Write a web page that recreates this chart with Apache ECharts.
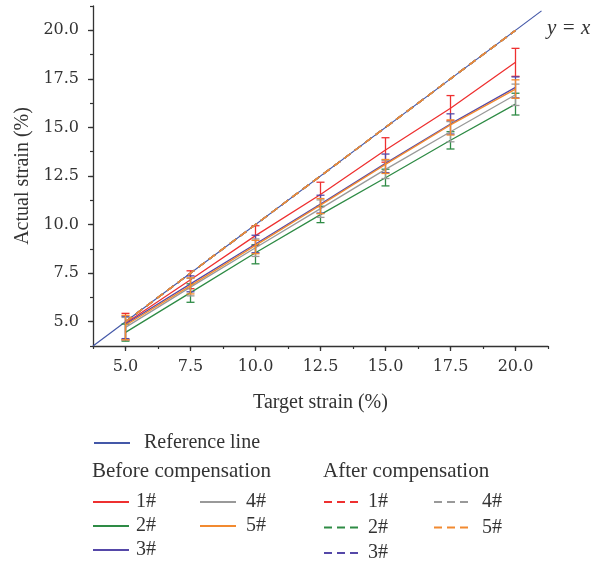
<!DOCTYPE html>
<html>
<head>
<meta charset="utf-8">
<script src="https://cdn.jsdelivr.net/npm/echarts@6/dist/echarts.min.js"></script>
<style>html,body{margin:0;padding:0;background:#fff}#c{width:591px;height:565px}</style>
</head>
<body>
<div id="c"></div>
<script>
// ---------- data ----------
const targets = [5, 7.5, 10, 12.5, 15, 17.5, 20];
const majorTicks = [5, 7.5, 10, 12.5, 15, 17.5, 20];
const refLine = [3.75, 21];

const before1 = [4.92, 7.16, 9.43, 11.55, 13.84, 15.99, 18.35];
const before2 = [4.45, 6.50, 8.55, 10.51, 12.41, 14.34, 16.20];
const before3 = [4.88, 6.95, 9.00, 11.05, 13.15, 15.18, 17.06];
const before4 = [4.71, 6.78, 8.81, 10.82, 12.84, 14.78, 16.68];
const before5 = [4.82, 6.86, 8.93, 11.00, 13.10, 15.13, 16.97];

const up1 = [0.51, 0.46, 0.51, 0.63, 0.63, 0.65, 0.72];
const dn1 = [0.85, 0.46, 0.51, 0.63, 0.63, 0.65, 0.72];
const up2 = [0.43, 0.45, 0.41, 0.43, 0.44, 0.44, 0.56];
const dn2 = [0.45, 0.50, 0.57, 0.41, 0.42, 0.45, 0.56];
const up3 = [0.40, 0.41, 0.45, 0.46, 0.48, 0.52, 0.54];
const dn3 = [0.75, 0.41, 0.45, 0.46, 0.48, 0.52, 0.54];
const up4 = [0.51, 0.45, 0.45, 0.45, 0.47, 0.52, 0.55];
const dn4 = [0.65, 0.45, 0.45, 0.45, 0.47, 0.52, 0.55];
const up5 = [0.51, 0.40, 0.26, 0.34, 0.25, 0.26, 0.48];
const dn5 = [0.75, 0.43, 0.43, 0.44, 0.47, 0.52, 0.47];

const after1 = [5, 7.5, 10, 12.5, 15, 17.5, 20];
const after2 = [5, 7.5, 10, 12.5, 15, 17.5, 20];
const after3 = [5, 7.5, 10, 12.5, 15, 17.5, 20];
const after4 = [5, 7.5, 10, 12.5, 15, 17.5, 20];
const after5 = [5, 7.5, 10, 12.5, 15, 17.5, 20];

const labels = ['1#', '2#', '3#', '4#', '5#'];
const colors = ['#ee3030', '#2e8b45', '#5548a8', '#999999', '#f28a30'];
const refColor = '#4458a8';

// ---------- build ----------
const befores = [before1, before2, before3, before4, before5];
const ups = [up1, up2, up3, up4, up5];
const dns = [dn1, dn2, dn3, dn4, dn5];
const afters = [after1, after2, after3, after4, after5];
const pair = (xs, ys) => xs.map((x, i) => [x, ys[i]]);
const serif = '"Liberation Serif", "Times New Roman", serif';
const txt = '#333';

function errRender(color) {
  return function (params, api) {
    const x = api.value(0), lo = api.value(1), hi = api.value(2);
    const a = api.coord([x, lo]), b = api.coord([x, hi]);
    const w = 4, st = { stroke: color, lineWidth: 1.3 };
    return {
      type: 'group', children: [
        { type: 'line', shape: { x1: a[0], y1: a[1], x2: b[0], y2: b[1] }, style: st },
        { type: 'line', shape: { x1: a[0] - w, y1: a[1], x2: a[0] + w, y2: a[1] }, style: st },
        { type: 'line', shape: { x1: b[0] - w, y1: b[1], x2: b[0] + w, y2: b[1] }, style: st }
      ]
    };
  };
}

const series = [];
series.push({
  name: 'ref', type: 'line', data: refLine.map(v => [v, v]), symbol: 'none',
  lineStyle: { color: refColor, width: 1.2 }, itemStyle: { color: refColor }, z: 1, silent: true
});
for (let i = 0; i < 5; i++) {
  series.push({
    name: 'b' + (i + 1), type: 'line', data: pair(targets, befores[i]), symbol: 'none',
    lineStyle: { color: colors[i], width: 1.3 }, itemStyle: { color: colors[i] }, z: 2 + i
  });
  series.push({
    name: 'e' + (i + 1), type: 'custom', renderItem: errRender(colors[i]),
    data: targets.map((x, j) => [x, befores[i][j] - dns[i][j], befores[i][j] + ups[i][j]]),
    encode: { x: 0, y: [1, 2] }, z: 2 + i, silent: true
  });
}
for (let i = 0; i < 5; i++) {
  series.push({
    name: 'a' + (i + 1), type: 'line', data: pair(targets, afters[i]), symbol: 'none',
    lineStyle: { color: colors[i], width: 1.5, type: [8, 5] }, itemStyle: { color: colors[i] }, z: 10 + i
  });
}

const legendBase = {
  orient: 'vertical', itemWidth: 36, itemHeight: 14, selectedMode: false, padding: 0,
  height: 80, itemStyle: { opacity: 0 },
  formatter: n => n === 'ref' ? 'Reference line' : n.slice(1) + '#',
  textStyle: { fontFamily: serif, fontSize: 20, color: txt, lineHeight: 20 }
};
function leg(left, top, data, pad, gap) {
  return Object.assign({}, legendBase, {
    left: left, top: top, data: data, itemGap: gap,
    textStyle: Object.assign({}, legendBase.textStyle, { padding: [0, 0, 0, pad] })
  });
}

const axisCommon = {
  type: 'value', min: 3.75, max: 21.25, splitLine: { show: false }
};

const option = {
  animation: false,
  backgroundColor: '#fff',
  grid: { left: 93, top: 6, right: 43, bottom: 219, containLabel: false },
  xAxis: [
    Object.assign({}, axisCommon, {
      position: 'bottom',
      axisLine: { show: true, lineStyle: { color: txt, width: 1.3 } },
      axisTick: { show: true, length: 5, customValues: majorTicks, lineStyle: { color: txt, width: 1.3 } },
      axisLabel: { customValues: majorTicks, formatter: v => v.toFixed(1), margin: 13,
        fontFamily: '"DejaVu Serif", serif', fontSize: 16, color: txt },
      name: 'Target strain (%)', nameLocation: 'middle', nameGap: 47,
      nameTextStyle: { fontFamily: serif, fontSize: 20, color: txt }
    }),
    Object.assign({}, axisCommon, {
      position: 'bottom', interval: 1.25,
      axisLine: { show: false },
      axisTick: { show: true, length: 3, lineStyle: { color: txt, width: 1.2 } },
      axisLabel: { show: false }
    })
  ],
  yAxis: [
    Object.assign({}, axisCommon, {
      position: 'left',
      axisLine: { show: true, lineStyle: { color: txt, width: 1.3 } },
      axisTick: { show: true, length: 5, customValues: majorTicks, lineStyle: { color: txt, width: 1.3 } },
      axisLabel: { customValues: majorTicks, formatter: v => v.toFixed(1), margin: 14,
        fontFamily: '"DejaVu Serif", serif', fontSize: 16, color: txt },
      name: 'Actual strain (%)', nameLocation: 'middle', nameGap: 57,
      nameTextStyle: { fontFamily: serif, fontSize: 20, color: txt }
    }),
    Object.assign({}, axisCommon, {
      position: 'left', interval: 1.25,
      axisLine: { show: false },
      axisTick: { show: true, length: 3, lineStyle: { color: txt, width: 1.2 } },
      axisLabel: { show: false }
    })
  ],
  legend: [
    leg(93, 433, ['ref'], 9, 4),
    leg(92, 492, ['b1', 'b2', 'b3'], 2, 4),
    leg(199, 492, ['b4', 'b5'], 5, 4),
    leg(323, 492, ['a1', 'a2', 'a3'], 3, 5.5),
    leg(433, 492, ['a4', 'a5'], 7, 5.5)
  ],
  graphic: [
    { type: 'text', left: 547, top: 18, style: { text: 'y = x', font: 'italic 21px ' + serif, fill: txt } },
    { type: 'text', left: 92, top: 461, style: { text: 'Before compensation', font: '21px ' + serif, fill: txt } },
    { type: 'text', left: 323, top: 461, style: { text: 'After compensation', font: '21px ' + serif, fill: txt } }
  ],
  series: series
};

const chart = echarts.init(document.getElementById('c'), null, { renderer: 'canvas' });
chart.setOption(option);
</script>
</body>
</html>
